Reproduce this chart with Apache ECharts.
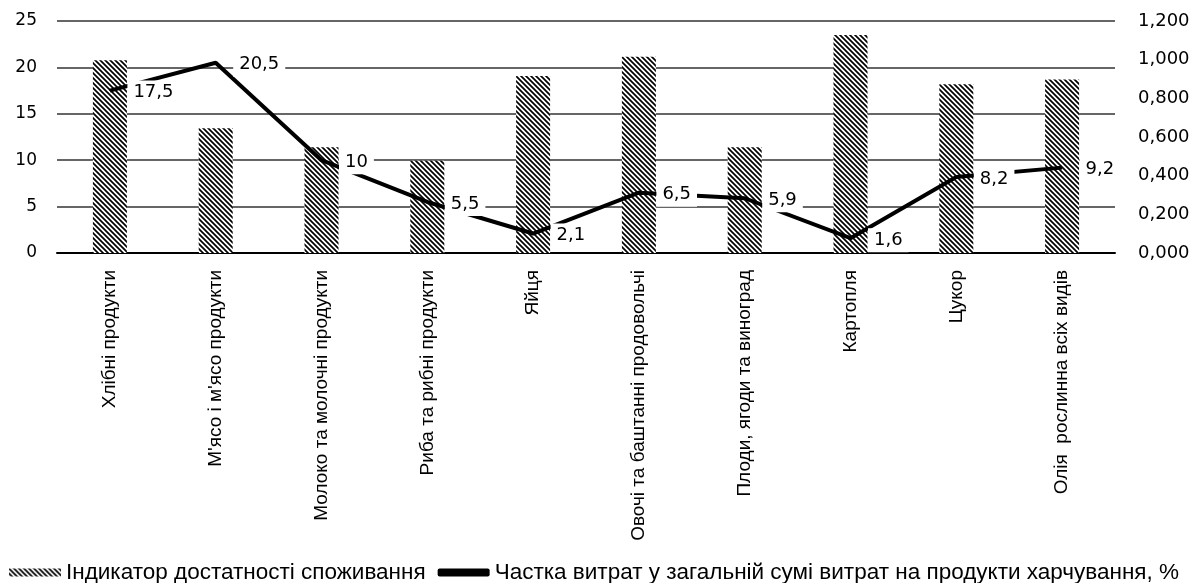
<!DOCTYPE html>
<html>
<head>
<meta charset="utf-8">
<script src="https://cdn.jsdelivr.net/npm/echarts@6/dist/echarts.min.js"></script>
<style>
html,body{margin:0;padding:0;background:#fff;}
#chart{width:1204px;height:583px;}
</style>
</head>
<body>
<div id="chart"></div>
<script>
const categories = ['Хлібні продукти','М\'ясо і м\'ясо продукти','Молоко та молочні продукти','Риба та рибні продукти','Яйця','Овочі та баштанні продовольчі','Плоди, ягоди та виноград','Картопля','Цукор','Олія  рослинна всіх видів'];
const indicatorValues = [0.997, 0.645, 0.547, 0.477, 0.916, 1.015, 0.547, 1.128, 0.873, 0.898];
const shareValues = [17.5, 20.5, 10, 5.5, 2.1, 6.5, 5.9, 1.6, 8.2, 9.2];
const seriesNames = ['Індикатор достатності споживання', 'Частка витрат у загальній сумі витрат на продукти харчування, %'];

function makeHatch(){
  const s = 5;
  const c = document.createElement('canvas');
  c.width = s; c.height = s;
  const g = c.getContext('2d');
  g.fillStyle = '#fff'; g.fillRect(0,0,s,s);
  g.strokeStyle = '#000'; g.lineWidth = 1.7;
  g.beginPath();
  g.moveTo(-1,-1); g.lineTo(s+1,s+1);
  g.moveTo(-1,s-1); g.lineTo(1,s+1);
  g.moveTo(s-1,-1); g.lineTo(s+1,1);
  g.stroke();
  return c;
}
const hatch = {image: makeHatch(), repeat: 'repeat'};

const chart = echarts.init(document.getElementById('chart'));
const tickFont = {fontFamily: 'DejaVu Sans', fontSize: 17, color: '#000'};
chart.setOption({
  animation: false,
  grid: {left: 57, right: 89, top: 21, bottom: 330, containLabel: false},
  legend: {
    left: 4, bottom: -6, width: 1200, itemGap: 12, itemWidth: 52, itemHeight: 8,
    textStyle: {fontFamily: "'Liberation Sans Narrow','Liberation Sans',sans-serif", fontSize: 22.5, color: '#000'},
    data: [
      {name: seriesNames[0], icon: 'rect', itemStyle: {color: hatch, borderWidth: 0}},
      {name: seriesNames[1], icon: 'roundRect'}
    ]
  },
  xAxis: {
    type: 'category', data: categories,
    axisLine: {lineStyle: {color: '#000', width: 2}},
    axisTick: {show: false},
    axisLabel: {rotate: 90, interval: 0, margin: 17, fontFamily: 'Liberation Sans', fontSize: 19, color: '#000'}
  },
  yAxis: [
    {type: 'value', min: 0, max: 25, interval: 5, position: 'left',
     axisLine: {show: false}, axisTick: {show: false},
     axisLabel: Object.assign({margin: 20}, tickFont),
     splitLine: {lineStyle: {color: '#333', width: 1.5}}},
    {type: 'value', min: 0, max: 1.2, interval: 0.2, position: 'right',
     axisLine: {show: false}, axisTick: {show: false},
     axisLabel: Object.assign({margin: 23, formatter: v => v.toFixed(3).replace('.', ',')}, tickFont, {fontSize: 18}),
     splitLine: {show: false}}
  ],
  series: [
    {name: seriesNames[0], type: 'bar', yAxisIndex: 1, data: indicatorValues, barWidth: 34,
     itemStyle: {color: hatch}},
    {name: seriesNames[1], type: 'line', yAxisIndex: 0, data: shareValues,
     symbol: 'circle', symbolSize: 1, showSymbol: true, z: 3,
     lineStyle: {color: '#000', width: 4},
     itemStyle: {color: '#000'},
     label: {show: true, position: 'right', distance: 17, offset: [0, 2],
       backgroundColor: '#fff', padding: [3, 6],
       fontFamily: 'DejaVu Sans', fontSize: 18, color: '#000',
       formatter: p => String(p.value).replace('.', ',')}}
  ]
});
</script>
</body>
</html>
